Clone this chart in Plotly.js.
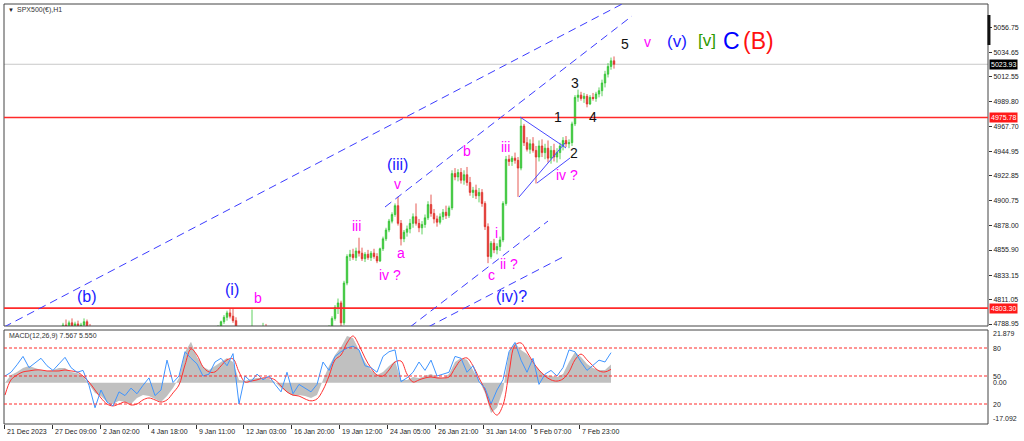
<!DOCTYPE html>
<html><head><meta charset="utf-8">
<script src="https://cdn.plot.ly/plotly-3.0.1.min.js"></script>
<style>html,body{margin:0;padding:0;background:#fff;}#chart{width:1024px;height:441px;}</style>
</head><body><div id="chart"></div>
<script>
// ---------- price bars (bar index, OHLC) ----------
const barX = [63,66,69,72,75,78,81,84,87,90,
  218,221,224,227,230,233,236,252,263,266,
  329,332,335,338,341,344,347,350,353,356,359,362,365,368,371,374,377,380,383,386,389,392,395,398,
  401,404,407,410,413,416,419,422,425,428,431,434,437,440,443,446,449,452,455,458,461,464,467,470,
  473,476,479,482,485,488,491,494,497,500,503,506,509,512,515,518,521,524,527,530,533,536,539,542,
  545,548,551,554,557,560,563,566,569,572,575,578,581,584,587,590,593,596,599,602,605,608,611,614];
const barOpen = [4785,4788,4786,4790,4787,4789,4785,4788,4791,4784,
  4780,4786,4791,4795,4799,4796,4792,4781,4783,4786,
  4776,4786,4794,4804,4808,4790,4826,4850,4852,4849,4855,4853,4848,4852,4849,4853,4850,4846,4857,4866,4874,4882,4888,4896,
  4880,4866,4872,4875,4880,4886,4880,4876,4879,4885,4897,4889,4884,4881,4886,4890,4887,4894,4925,4922,4926,4919,4924,4917,
  4908,4910,4905,4908,4898,4877,4850,4862,4856,4859,4865,4898,4938,4936,4939,4937,4930,4968,4953,4947,4952,4946,4940,4950,
  4944,4948,4939,4946,4940,4944,4950,4955,4952,4953,4970,4994,4996,4993,4995,4988,4994,4993,4997,5000,5007,5015,5022,5027];
const barHigh = [4790,4793,4792,4794,4791,4792,4790,4794,4793,4789,
  4788,4792,4797,4801,4803,4803,4795,4802,4790,4789,
  4788,4796,4806,4812,4810,4828,4852,4856,4857,4858,4867,4858,4854,4856,4855,4857,4853,4858,4868,4876,4884,4890,4898,4904,
  4883,4874,4878,4884,4889,4898,4884,4882,4888,4900,4906,4893,4887,4889,4893,4896,4896,4928,4930,4929,4930,4928,4931,4922,
  4913,4915,4912,4911,4900,4880,4864,4866,4862,4868,4900,4941,4942,4941,4944,4940,4976,4970,4958,4956,4958,4950,4955,4956,
  4952,4955,4950,4952,4948,4953,4958,4959,4956,4972,4996,5001,4999,4998,4997,4996,4998,4999,5003,5010,5018,5025,5030,5031];
const barLow = [4781,4784,4782,4785,4782,4784,4780,4785,4783,4778,
  4778,4784,4789,4792,4794,4790,4780,4779,4780,4781,
  4774,4784,4792,4798,4785,4788,4824,4846,4847,4846,4850,4846,4845,4847,4846,4848,4844,4845,4855,4864,4872,4880,4886,4878,
  4860,4863,4868,4871,4876,4878,4872,4870,4876,4883,4886,4880,4877,4879,4883,4884,4885,4892,4919,4918,4916,4915,4914,4905,
  4903,4902,4899,4895,4874,4844,4848,4853,4852,4855,4863,4896,4932,4932,4934,4904,4928,4950,4945,4943,4944,4916,4936,4940,
  4938,4935,4934,4936,4935,4938,4946,4949,4948,4950,4968,4990,4991,4989,4985,4987,4991,4990,4994,4995,5003,5012,5019,5020];
const barClose = [4788,4786,4790,4787,4789,4785,4788,4791,4784,4780,
  4786,4791,4795,4799,4796,4792,4782,4786,4786,4782,
  4786,4794,4804,4808,4790,4826,4850,4852,4849,4855,4853,4848,4852,4849,4853,4850,4846,4857,4866,4874,4882,4888,4896,4880,
  4866,4872,4875,4880,4886,4880,4876,4879,4885,4897,4889,4884,4881,4886,4890,4887,4894,4925,4922,4926,4919,4924,4917,4908,
  4910,4905,4908,4898,4877,4850,4862,4856,4859,4865,4898,4938,4936,4939,4937,4930,4968,4953,4947,4952,4946,4940,4950,4944,
  4948,4939,4946,4940,4944,4950,4955,4952,4953,4970,4994,4996,4993,4995,4988,4994,4993,4997,5000,5007,5015,5022,5027,5024];

// ---------- MACD panel (one value every 6 bars, from bar 5) ----------
const macdHist = [0,3.2,4.5,6.1,7.0,6.1,5.3,4.9,5.3,6.1,6.1,4.5,4.1,2.8,-0.9,-4.2,-5.5,-8.0,-8.8,-7.5,
  -8.0,-8.8,-6.3,-5.1,-5.5,-6.7,-8.0,-5.5,-2.2,2.0,12.8,17.0,10.7,6.6,5.3,7.0,8.6,10.3,8.6,1.2,
  0.7,1.6,2.0,2.0,1.6,0.3,-2.2,-3.8,-5.5,-5.1,-5.5,-6.3,-5.1,1.2,7.0,11.5,14.8,19.4,18.6,13.6,
  8.6,5.3,3.2,4.5,7.0,9.0,1.2,1.2,2.4,2.0,2.8,3.6,2.4,2.0,3.6,8.6,10.3,9.5,5.3,1.2,
  -4.2,-12.5,-10.4,-3.0,12.8,16.5,13.6,11.9,8.6,5.3,3.2,2.8,2.4,3.6,8.6,12.8,10.7,7.8,6.1,5.3,5.3,7.57];
const macdSignal = [-5.1,1.2,3.2,4.5,4.9,5.3,5.3,4.9,4.9,4.9,5.3,4.9,4.5,2.8,0.3,-3.0,-6.3,-8.8,-9.6,-8.8,
  -8.0,-9.2,-8.8,-7.1,-6.3,-7.1,-8.0,-7.1,-4.2,-0.9,7.4,14.0,11.5,6.6,4.5,4.5,7.0,9.5,9.9,4.5,
  0.3,0.7,1.2,2.0,2.0,1.2,-1.3,-3.8,-5.1,-5.5,-6.7,-7.5,-6.7,-3.0,2.8,9.5,11.5,16.5,19.4,15.6,
  10.3,6.1,3.2,2.8,5.3,8.6,9.0,3.6,0.3,1.2,2.0,2.4,2.0,2.0,2.4,6.1,9.5,10.3,7.0,2.0,
  -3.0,-10.4,-13.4,-9.2,4.1,15.6,16.5,12.8,8.6,5.3,2.8,1.2,0.7,1.6,4.5,9.5,11.9,9.5,7.0,4.9,4.5,5.55];
const oscLine = [50,54,62,71,59,64,69,61,56,63,70,59,54,56,40,16,35,22,18,33,
  29,37,31,40,48,29,35,67,43,50,76,69,63,50,52,65,69,61,74,20,
  50,44,52,46,50,41,33,54,31,41,37,33,41,65,56,71,76,80,82,78,
  61,59,54,71,76,78,44,48,54,65,56,67,50,52,54,71,69,54,61,44,
  37,20,35,46,76,86,67,54,69,41,52,56,50,59,78,76,65,56,61,67,65,75];
const macdX = macdHist.map((_, i) => 5 + 6 * i);
const oscLevels = [80, 50, 20];

// ---------- axis labels ----------
const priceTicks = [5056.75,5034.65,5012.55,4989.80,4967.70,4944.95,4922.85,4900.75,4878.00,4855.90,4833.15,4811.05,4788.95];
const dateTickX = [4,52,100,148,196,243,291,339,387,435,483,531,579];
const dateTickText = ['21 Dec 2023','27 Dec 09:00','2 Jan 02:00','4 Jan 18:00','9 Jan 11:00','12 Jan 03:00','16 Jan 20:00',
  '19 Jan 12:00','24 Jan 05:00','26 Jan 21:00','31 Jan 14:00','5 Feb 07:00','7 Feb 23:00'];
const levelRed = [4975.78, 4803.30];
const lastPrice = 5023.93;

// ---------- trend lines (bar index, price) ----------
const dashedLines = [
  [4,4786.2,622,5078.4],
  [385,4894.8,632,5067.6],
  [410,4786.2,548,4882.1],
  [428,4786.2,565,4850.5]
];
const solidLines = [
  [520,4976.2,566,4948.2],
  [519,4903.8,565,4952.7],
  [537,4916.5,570,4939.1]
];

// ---------- wave labels ----------
const waveText = ['(b)','(i)','b','iii','iv ?','a','v','(iii)','b','iii','i','ii ?','c','(iv)?','iv ?','1','2','3','4','5','v','(v)','[v]','C','(B)'];
const waveX    = [87,232,258,356,390,401,397,397,467,505,496,509,491,511,567,558,574,575,593,625,647,677,707,731,758];
const waveY    = [4813.4,4820.6,4812.5,4877.6,4833.3,4853.2,4915.6,4933.7,4945.5,4949.1,4871.3,4843.2,4833.3,4813.4,4923.8,
                  4976.2,4943.6,5007.0,4976.2,5042.3,5044.1,5044.1,5045.0,5045.0,5045.0];
const waveKind = ['B','B','M','M','M','M','M','B','M','M','M','M','M','B','M','K','K','K','K','K','M','B2','G','C','R'];

const kindStyle = {
  B:{color:'#1a1aff',size:16}, B2:{color:'#1a1aff',size:17}, M:{color:'#ff00ff',size:14},
  K:{color:'#111111',size:14}, G:{color:'#2e9b00',size:17}, C:{color:'#0000ff',size:23}, R:{color:'#ff1010',size:23}
};

const H = 441, MT = 4, MB = 17, PH = H - MT - MB;
const py = v => (H - MB - v) / PH; // pixel row -> paper y
const mainDomain = [py(326), 1];
const macdDomain = [0, py(330)];
const FONT = 'Liberation Sans, Arial, sans-serif';

const traces = [
  {type:'candlestick', x:barX, open:barOpen, high:barHigh, low:barLow, close:barClose,
   xaxis:'x', yaxis:'y', whiskerwidth:0,
   increasing:{line:{color:'#35c435',width:0.8}, fillcolor:'#35c435'},
   decreasing:{line:{color:'#e0302a',width:0.8}, fillcolor:'#e0302a'},
   hoverinfo:'skip'},
  {type:'scatter', mode:'lines', x:macdX, y:macdHist, xaxis:'x', yaxis:'y2',
   fill:'tozeroy', fillcolor:'#c0c0c0', line:{width:0, color:'#c0c0c0'}, hoverinfo:'skip'},
  {type:'scatter', mode:'lines', x:macdX, y:oscLine, xaxis:'x', yaxis:'y3',
   line:{color:'#3f95ff', width:1}, hoverinfo:'skip'},
  {type:'scatter', mode:'lines', x:macdX, y:macdSignal, xaxis:'x', yaxis:'y2',
   line:{color:'#ff3030', width:1, shape:'spline', smoothing:1}, hoverinfo:'skip'}
];

const shapes = [];
// panel frames
shapes.push({type:'rect', xref:'paper', yref:'paper', x0:0, x1:1, y0:mainDomain[0], y1:1, line:{color:'#444', width:1}, layer:'above'});
shapes.push({type:'rect', xref:'paper', yref:'paper', x0:0, x1:1, y0:macdDomain[0], y1:macdDomain[1], line:{color:'#444', width:1}, layer:'above'});
// current price line and red levels
shapes.push({type:'line', xref:'paper', yref:'y', x0:0, x1:1, y0:lastPrice, y1:lastPrice, line:{color:'#c8c8c8', width:1}, layer:'below'});
levelRed.forEach(v => shapes.push({type:'line', xref:'paper', yref:'y', x0:0, x1:1, y0:v, y1:v, line:{color:'#ff2a2a', width:1.6}, layer:'above'}));
// trend lines
dashedLines.forEach(l => shapes.push({type:'line', xref:'x', yref:'y', x0:l[0], y0:l[1], x1:l[2], y1:l[3], line:{color:'#3c3cff', width:1, dash:'8px,5px'}}));
solidLines.forEach(l => shapes.push({type:'line', xref:'x', yref:'y', x0:l[0], y0:l[1], x1:l[2], y1:l[3], line:{color:'#4848ff', width:1}}));
// oscillator levels
oscLevels.forEach(v => shapes.push({type:'line', xref:'paper', yref:'y3', x0:0, x1:1, y0:v, y1:v, line:{color:'#ff2a2a', width:1, dash:'3px,2px'}}));
// chart shift marker
shapes.push({type:'rect', xref:'paper', yref:'paper', x0:0.9995, x1:1.0025, y0:py(45), y1:py(15), fillcolor:'#111', line:{width:0}});

const ann = [];
ann.push({xref:'paper', yref:'paper', x:0.002, y:py(10), xanchor:'left', yanchor:'middle', text:'▼', showarrow:false, font:{family:FONT, size:6, color:'#222'}});
ann.push({xref:'paper', yref:'paper', x:0.0115, y:py(10), xanchor:'left', yanchor:'middle', text:'SPX500(€),H1', showarrow:false, font:{family:FONT, size:7, color:'#333'}});
ann.push({xref:'paper', yref:'paper', x:0.003, y:py(336), xanchor:'left', yanchor:'middle', text:'MACD(12,26,9) 7.567 5.550', showarrow:false, font:{family:FONT, size:7, color:'#333'}});
// price tags
const tag = (v, bg) => ({xref:'paper', yref:'y', x:1, y:v, xanchor:'left', yanchor:'middle', xshift:1, text:v.toFixed(2),
  showarrow:false, bgcolor:bg, borderpad:1, font:{family:FONT, size:7, color:'#fff'}});
ann.push(tag(lastPrice, '#000'));
levelRed.forEach(v => ann.push(tag(v, '#ff1a1a')));
// macd panel labels
const rl = (yref, v, txt, ys) => ({xref:'paper', yref:yref, x:1, y:v, xanchor:'left', yanchor:'middle', xshift:3, yshift:ys,
  text:txt, showarrow:false, font:{family:FONT, size:7, color:'#222'}});
ann.push(rl('y2', 21.879, '21.879', -3));
ann.push(rl('y3', 80, '80', 0));
ann.push(rl('y3', 50, '50', 0));
ann.push(rl('y2', 0, '0.00', 0));
ann.push(rl('y3', 20, '20', 0));
ann.push(rl('y2', -17.092, '-17.092', 6));
// date labels
dateTickX.forEach((x, i) => ann.push({xref:'x', yref:'paper', x:x, y:py(431), xanchor:'left', yanchor:'middle', xshift:1,
  text:dateTickText[i], showarrow:false, font:{family:FONT, size:7, color:'#222'}}));
// wave labels
waveText.forEach((t, i) => {
  const s = kindStyle[waveKind[i]];
  ann.push({xref:'x', yref:'y', x:waveX[i], y:waveY[i], xanchor:'center', yanchor:'middle', text:t, showarrow:false,
    font:{family:FONT, size:s.size, color:s.color}});
});

const layout = {
  width:1024, height:441, margin:{l:4, r:36, t:MT, b:MB, pad:0},
  paper_bgcolor:'#ffffff', plot_bgcolor:'#ffffff', showlegend:false,
  xaxis:{range:[4,988], domain:[0,1], anchor:'y2', showgrid:false, zeroline:false, showline:false,
    ticks:'outside', ticklen:4, tickcolor:'#333', tickvals:dateTickX, showticklabels:false,
    rangeslider:{visible:false}, fixedrange:true},
  yaxis:{domain:mainDomain, range:[4787.14,5078.45], side:'right', anchor:'x', tickvals:priceTicks,
    ticktext:priceTicks.map(v => v.toFixed(2)), ticks:'outside', ticklen:3, tickcolor:'#333',
    tickfont:{family:FONT, size:7, color:'#222'}, showgrid:false, zeroline:false, showline:false, fixedrange:true},
  yaxis2:{domain:macdDomain, range:[-17.092,21.879], anchor:'x', showticklabels:false, ticks:'', showgrid:false, zeroline:false, fixedrange:true},
  yaxis3:{overlaying:'y2', range:[-1.43,99.3], anchor:'x', visible:false, showgrid:false, zeroline:false, fixedrange:true},
  shapes:shapes, annotations:ann
};

Plotly.newPlot('chart', traces, layout, {staticPlot:true, displayModeBar:false});
</script></body></html>
